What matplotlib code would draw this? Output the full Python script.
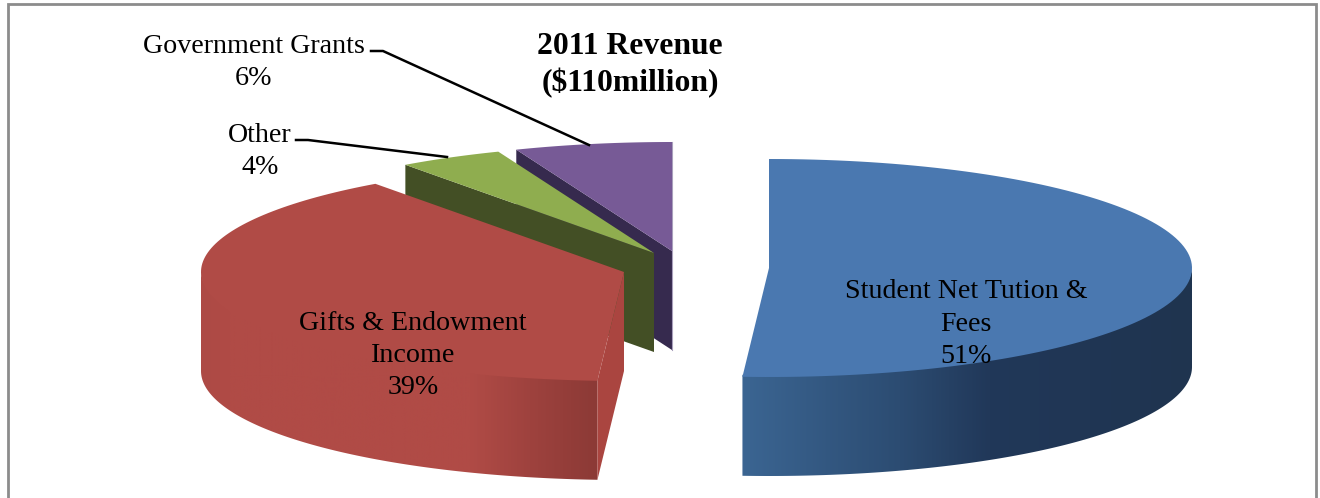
import matplotlib
matplotlib.use('Agg')
import matplotlib.pyplot as plt
from matplotlib.colors import LinearSegmentedColormap
from matplotlib.patches import Polygon
import numpy as np

# revenue shares, clockwise from 12 o'clock
categories = ['Student Net Tution &\nFees', 'Gifts & Endowment\nIncome', 'Other', 'Government Grants']
shares = [51, 39, 4, 6]
top_colors = ['#4A78B0', '#B04B46', '#8FAD4F', '#775A96']
wall_colors = ['#1F344F', '#AA4540', '#434F25', '#362A4E']
title = '2011 Revenue\n($110million)'

# pie centre of each exploded slice, in pixels
centers = [(769, 268), (624, 272), (654, 253), (672, 251)]
rx, ry, depth = 423, 109, 99

plt.rcParams['font.family'] = ['Liberation Serif', 'DejaVu Serif']

fig = plt.figure(figsize=(13.2, 4.98), dpi=100)
ax = fig.add_axes([0, 0, 1, 1])

edges = np.radians(np.concatenate([[0], np.cumsum(shares)]) * 3.6)


def rim(center, a0, a1, drop=0):
    t = np.linspace(a0, a1, 120)
    return np.column_stack([center[0] + rx * np.sin(t), center[1] - ry * np.cos(t) + drop])


def shaded_side(center, a0, a1, stops, zorder):
    # horizontal shading clipped to the side wall, tucked 2px under the top face so no white leaks at the rim
    pts = np.vstack([rim(center, a0, a1, -2), rim(center, a1, a0, depth)])
    x0, x1 = pts[:, 0].min(), pts[:, 0].max()
    cmap = LinearSegmentedColormap.from_list('side', stops)
    poly = Polygon(pts, closed=True, fc='none', ec='none', zorder=zorder)
    ax.add_patch(poly)
    im = ax.imshow(np.linspace(0, 1, 400).reshape(1, -1), cmap=cmap, aspect='auto',
                   extent=[x0, x1, pts[:, 1].max(), pts[:, 1].min()], zorder=zorder)
    im.set_clip_path(poly)


def cut_wall(center, angle, color, zorder):
    corner = rim(center, angle, angle, 0)[0]
    pts = [corner, center, (center[0], center[1] + depth), (corner[0], corner[1] + depth)]
    ax.add_patch(Polygon(pts, closed=True, fc=color, ec='none', zorder=zorder))


def top_face(center, a0, a1, color, zorder):
    pts = np.vstack([[center], rim(center, a0, a1)])
    ax.add_patch(Polygon(pts, closed=True, fc=color, ec='none', zorder=zorder))


# purple slice at the back
cut_wall(centers[3], edges[3], wall_colors[3], 1)
ax.plot([centers[3][0]] * 2, [centers[3][1] - ry, centers[3][1] + depth], color='#A9A0BC', lw=0.8, zorder=1)
top_face(centers[3], edges[3], edges[4], top_colors[3], 2)

# green slice
cut_wall(centers[2], edges[2], wall_colors[2], 3)
top_face(centers[2], edges[2], edges[3], top_colors[2], 4)

# red slice, side blends into the top until the shading starts
shaded_side(centers[1], edges[1], np.radians(270),
            [(0, '#AD4A45'), (0.07, '#B04B46'), (0.68, '#B04B46'), (0.85, '#9C413D'), (1, '#8C3A36')], 5)
cut_wall(centers[1], edges[1], wall_colors[1], 5)
top_face(centers[1], edges[1], edges[2], top_colors[1], 6)

# blue slice
shaded_side(centers[0], np.radians(90), edges[1],
            [(0, '#3B6592'), (0.35, '#2C4C72'), (0.55, '#213859'), (1, '#1F344F')], 7)
top_face(centers[0], edges[0], edges[1], top_colors[0], 8)

# frame, open along the bottom
ax.plot([7.5, 7.5, 1316, 1316], [498, 3.5, 3.5, 498], color='#8C8C8C', lw=2, zorder=0, solid_joinstyle='miter')

# leader lines
ax.plot([371, 383, 589], [51, 51, 145], color='black', lw=1.8, zorder=9)
ax.plot([296, 308, 447], [140, 140, 157], color='black', lw=1.8, zorder=9)

# labels
fs = 20.2
ls = 1.38
ax.text(966, 324, f'{categories[0]}\n{shares[0]}%', ha='center', va='center', fontsize=fs, linespacing=ls, zorder=10)
ax.text(413, 355.5, f'{categories[1]}\n{shares[1]}%', ha='center', va='center', fontsize=fs, linespacing=ls, zorder=10)
ax.text(254, 62.5, f'{categories[3]}\n{shares[3]}%', ha='center', va='center', fontsize=fs, linespacing=ls, zorder=10)
ax.text(260, 151.5, f'{categories[2]}\n{shares[2]}%', ha='center', va='center', fontsize=fs, linespacing=ls, zorder=10)
ax.text(630, 65, title, ha='center', va='center', fontsize=22.8, fontweight='bold', linespacing=1.32, zorder=10)

ax.set_xlim(0, 1320)
ax.set_ylim(498, 0)
ax.axis('off')
fig.savefig('out.png', dpi=100, facecolor='white')
